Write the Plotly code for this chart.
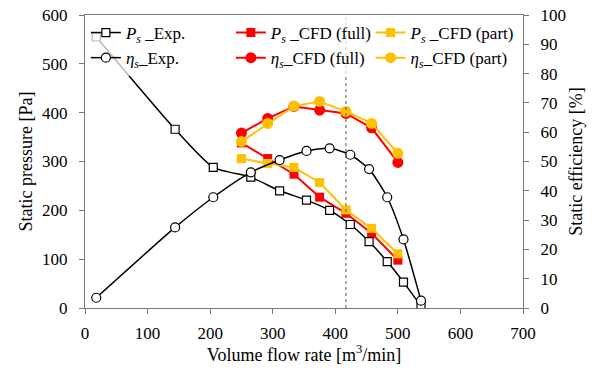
import plotly.graph_objects as go

# Experimental data
exp_q = [18, 144, 205, 265, 311, 354, 391, 424, 454, 483, 509, 537]
exp_ps = [555, 366, 288, 268, 240, 221, 200, 171, 136, 95, 53, 4]
exp_eta = [3.5, 27.5, 37.8, 46.3, 50.5, 53.6, 54.5, 52.3, 47.4, 37.8, 23.4, 2.5]

# CFD data
cfd_q = [250, 292, 334, 375, 417, 458, 500]
full_ps = [338, 306, 274, 227, 194, 153, 98]
full_eta = [59.7, 64.7, 68.8, 67.5, 66.4, 61.5, 49.7]
part_ps = [306, 296, 288, 257, 201, 163, 111]
part_eta = [56.8, 63.0, 68.9, 70.5, 67.1, 63.0, 52.8]

design_q = 417

RED = "#FF0000"
YEL = "#FFC000"
FONT = "Liberation Serif"

fig = go.Figure()

fig.add_trace(go.Scatter(x=cfd_q, y=full_ps, name="<i>P</i><sub><i>s</i></sub> _CFD (full)", legend="legend2",
                         mode="lines+markers", line=dict(color=RED, width=2),
                         marker=dict(symbol="square", size=9, color=RED), legendrank=1))
fig.add_trace(go.Scatter(x=cfd_q, y=full_eta, name="<i>η</i><sub><i>s</i></sub>_CFD (full)", yaxis="y2",
                         legend="legend2",
                         mode="lines+markers", line=dict(color=RED, width=2),
                         marker=dict(symbol="circle", size=11, color=RED), legendrank=2))
fig.add_trace(go.Scatter(x=cfd_q, y=part_ps, name="<i>P</i><sub><i>s</i></sub> _CFD (part)", legend="legend3",
                         mode="lines+markers", line=dict(color=YEL, width=2),
                         marker=dict(symbol="square", size=9, color=YEL), legendrank=1))
fig.add_trace(go.Scatter(x=cfd_q, y=part_eta, name="<i>η</i><sub><i>s</i></sub>_CFD (part)", yaxis="y2",
                         legend="legend3",
                         mode="lines+markers", line=dict(color=YEL, width=2),
                         marker=dict(symbol="circle", size=11, color=YEL), legendrank=2))
fig.add_trace(go.Scatter(x=exp_q, y=exp_ps, name="<i>P</i><sub><i>s</i></sub> _Exp.", legend="legend",
                         mode="lines+markers", line=dict(color="black", width=1.5, shape="spline", smoothing=0.6),
                         marker=dict(symbol="square", size=8, color="white", line=dict(color="black", width=1.2)),
                         legendrank=1))
fig.add_trace(go.Scatter(x=exp_q, y=exp_eta, name="<i>η</i><sub><i>s</i></sub>_Exp.", yaxis="y2", legend="legend",
                         mode="lines+markers", line=dict(color="black", width=1.5, shape="spline", smoothing=0.6),
                         marker=dict(symbol="circle", size=9, color="white", line=dict(color="black", width=1.2)),
                         legendrank=2))

fig.add_shape(type="line", x0=design_q, x1=design_q, y0=0, y1=1, xref="x", yref="paper",
              line=dict(color="#555555", width=1, dash="dot"))

axis_common = dict(showline=True, linecolor="#777777", linewidth=1.2, ticks="outside",
                   ticklen=5, tickcolor="#777777", showgrid=False, zeroline=False, automargin=False,
                   tickfont=dict(family=FONT, size=17, color="black"))

leg_common = dict(orientation="v", y=1.0, yanchor="top", xanchor="left",
                  bgcolor="rgba(255,255,255,0.72)", tracegroupgap=0,
                  font=dict(family=FONT, size=17, color="black"), itemwidth=30)

fig.update_layout(
    width=598, height=368,
    margin=dict(l=85, r=75, t=15, b=60, autoexpand=False),
    plot_bgcolor="white", paper_bgcolor="white",
    font=dict(family=FONT, size=17, color="black"),
    xaxis=dict(range=[0, 700], dtick=100, mirror=True, ticklabelstandoff=4,
               title=dict(text="Volume flow rate [m<sup>3</sup>/min]", font=dict(family=FONT, size=18), standoff=6),
               **axis_common),
    yaxis=dict(range=[0, 600], dtick=100, ticklabelstandoff=8,
               title=dict(text="Static pressure [Pa]", font=dict(family=FONT, size=18), standoff=4),
               **axis_common),
    yaxis2=dict(range=[0, 100], dtick=10, overlaying="y", side="right", ticklabelstandoff=8,
                title=dict(text="Static efficiency [%]", font=dict(family=FONT, size=18), standoff=4),
                **axis_common),
    legend=dict(x=0.002, **leg_common),
    legend2=dict(x=0.333, **leg_common),
    legend3=dict(x=0.652, **leg_common),
    showlegend=True,
)

fig.write_html("out.html")
